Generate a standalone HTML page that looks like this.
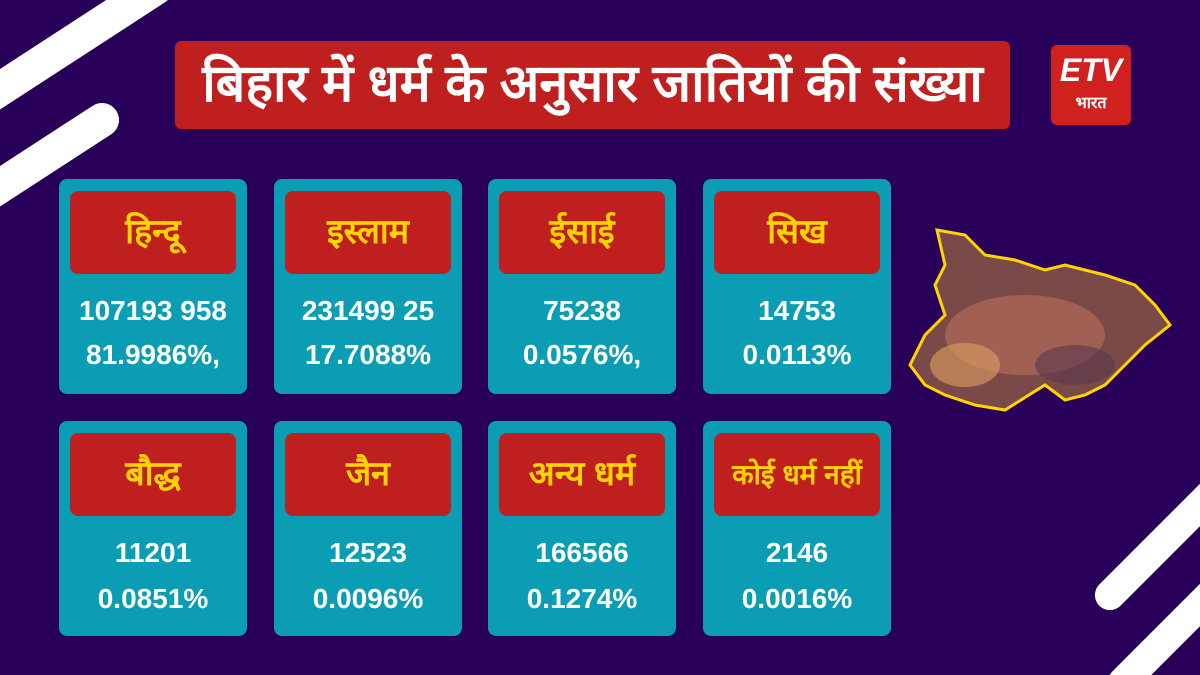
<!DOCTYPE html>
<html><head><meta charset="utf-8"><style>
html,body{margin:0;width:1200px;height:675px;overflow:hidden}
body{background:#28005a;font-family:"Liberation Sans","Noto Sans CJK SC",sans-serif;position:relative}
.s{position:absolute;background:#fff;border-radius:20px;transform-origin:center}
.t{position:absolute;left:175px;top:41px;width:835px;height:88px;background:#c01f1f;border-radius:6px;color:#fff;font-size:52px;font-weight:bold;line-height:86px;text-align:center;white-space:nowrap}
.c{position:absolute;width:188px;height:215px;background:#0a9db3;border-radius:8px}
.h{position:absolute;left:11px;top:12px;width:166px;height:83px;background:#c01f1f;border-radius:8px;color:#ffd400;font-weight:bold;font-size:34px;text-align:center;line-height:83px;white-space:nowrap}
.n{position:absolute;left:0;width:188px;text-align:center;color:#fff;font-weight:bold;font-size:28px}
</style></head><body>
<div class="s" style="left:-60px;top:30px;width:250px;height:34px;transform:rotate(-33deg)"></div>
<div class="s" style="left:-40px;top:140px;width:170px;height:34px;transform:rotate(-33deg)"></div>
<div class="s" style="left:1070px;top:520px;width:200px;height:30px;transform:rotate(-45deg)"></div>
<div class="s" style="left:1080px;top:600px;width:220px;height:30px;transform:rotate(-45deg)"></div>
<div class="t">बिहार में धर्म के अनुसार जातियों की संख्या</div>
<div style="position:absolute;left:1051px;top:45px;width:80px;height:80px;background:#d0211f;border-radius:6px;color:#fff;text-align:center">
<div style="font-size:32px;font-style:italic;font-weight:bold;line-height:42px;margin-top:4px">ETV</div>
<div style="font-size:16px;font-weight:bold">भारत</div></div>
<svg style="position:absolute;left:905px;top:225px" width="290" height="190"><polygon points="32,5 60,10 80,30 110,35 140,45 160,40 200,50 230,60 250,80 265,100 240,120 220,140 200,160 180,170 160,175 140,160 100,185 70,180 40,170 20,160 5,140 20,110 40,90 30,60 40,40" fill="#7a4a48" stroke="#ffd400" stroke-width="3"/><ellipse cx="120" cy="110" rx="80" ry="40" fill="#b06a5a" opacity=".7"/><ellipse cx="60" cy="140" rx="35" ry="22" fill="#e0a060" opacity=".6"/><ellipse cx="170" cy="140" rx="40" ry="20" fill="#5a3a50" opacity=".6"/></svg>
<div class="c" style="left:59px;top:179px"><div class="h">हिन्दू</div><div class="n" style="top:116px">107193 958</div><div class="n" style="top:160px">81.9986%,</div></div>
<div class="c" style="left:274px;top:179px"><div class="h">इस्लाम</div><div class="n" style="top:116px">231499 25</div><div class="n" style="top:160px">17.7088%</div></div>
<div class="c" style="left:488px;top:179px"><div class="h">ईसाई</div><div class="n" style="top:116px">75238</div><div class="n" style="top:160px">0.0576%,</div></div>
<div class="c" style="left:703px;top:179px"><div class="h">सिख</div><div class="n" style="top:116px">14753</div><div class="n" style="top:160px">0.0113%</div></div>
<div class="c" style="left:59px;top:421px"><div class="h">बौद्ध</div><div class="n" style="top:116px">11201</div><div class="n" style="top:162px">0.0851%</div></div>
<div class="c" style="left:274px;top:421px"><div class="h">जैन</div><div class="n" style="top:116px">12523</div><div class="n" style="top:162px">0.0096%</div></div>
<div class="c" style="left:488px;top:421px"><div class="h">अन्य धर्म</div><div class="n" style="top:116px">166566</div><div class="n" style="top:162px">0.1274%</div></div>
<div class="c" style="left:703px;top:421px"><div class="h" style="font-size:28px">कोई धर्म नहीं</div><div class="n" style="top:116px">2146</div><div class="n" style="top:162px">0.0016%</div></div>
</body></html>
